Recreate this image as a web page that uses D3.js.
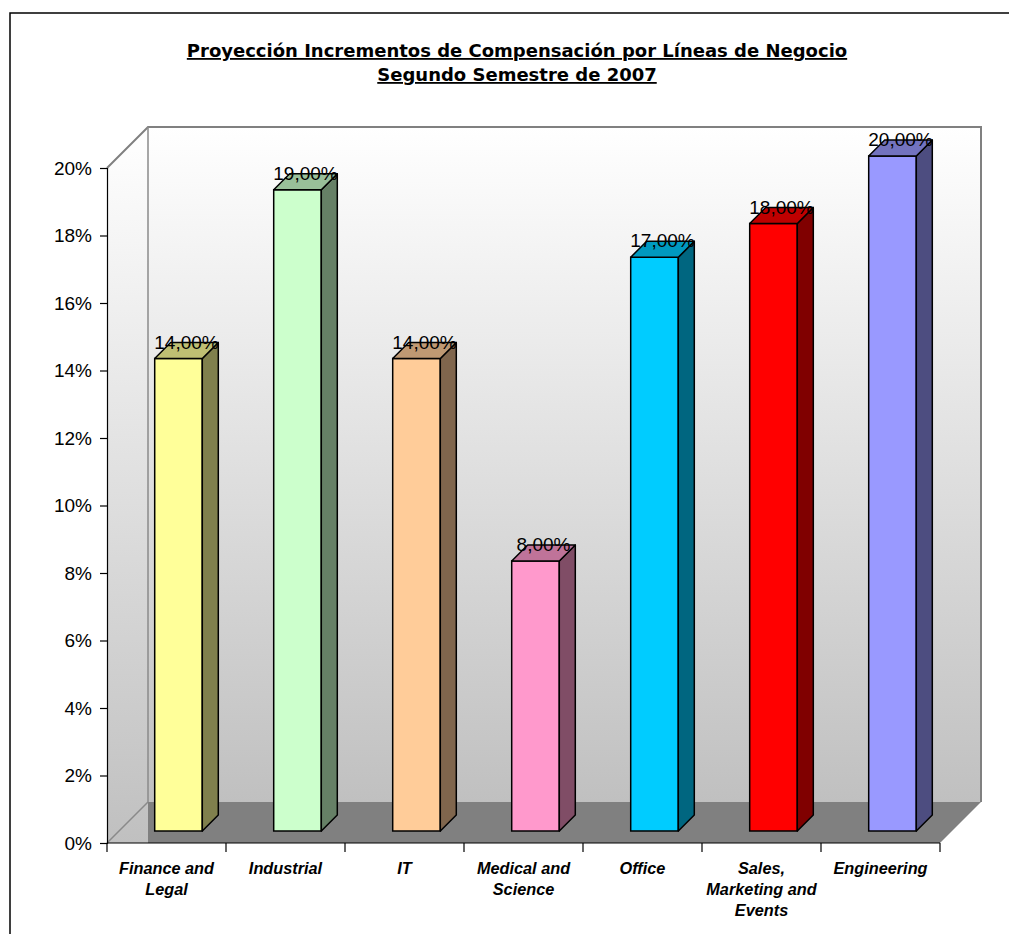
<!DOCTYPE html>
<html>
<head>
<meta charset="utf-8">
<script src="https://cdn.jsdelivr.net/npm/d3@7"></script>
<style>
  body { margin: 0; background: #fff; }
</style>
</head>
<body>
<div id="plot"></div>
<script>
const categories = [["Finance and", "Legal"], ["Industrial"], ["IT"], ["Medical and", "Science"],
                    ["Office"], ["Sales,", "Marketing and", "Events"], ["Engineering"]];
const values = [14, 19, 14, 8, 17, 18, 20];
const colors = ["#FFFF99", "#CCFFCC", "#FFCC99", "#FF99CC", "#00CCFF", "#FF0000", "#9999FF"];
const yTicks = [0, 2, 4, 6, 8, 10, 12, 14, 16, 18, 20];
const titleLines = ["Proyección Incrementos de Compensación por Líneas de Negocio", "Segundo Semestre de 2007"];

const width = 1009, height = 934;
const pLeft = 107, pRight = 940, pBottom = 843, pTop = 168;
const depth = 41;            // 3d offset of back wall
const barFront = 12, barSide = 16;

const svg = d3.select("#plot").append("svg")
  .attr("width", width).attr("height", height);

// outer border (only top and left edge visible)
svg.append("rect").attr("x", 10).attr("y", 13).attr("width", 1100).attr("height", 1000)
  .attr("fill", "#fff").attr("stroke", "#000").attr("stroke-width", 1.5);

const x = d3.scaleBand().domain(d3.range(values.length)).range([pLeft, pRight]);
const y = d3.scaleLinear().domain([0, 20]).range([pBottom, pTop]);

const defs = svg.append("defs");
const grad = defs.append("linearGradient").attr("id", "wall")
  .attr("x1", 0).attr("y1", 0).attr("x2", 0).attr("y2", 1);
grad.append("stop").attr("offset", "0%").attr("stop-color", "#ffffff");
grad.append("stop").attr("offset", "100%").attr("stop-color", "#c0c0c0");

const bx = v => v + depth, by = v => v - depth;

// left wall
svg.append("path")
  .attr("d", `M${pLeft},${y(20)}L${bx(pLeft)},${by(y(20))}L${bx(pLeft)},${pBottom}L${pLeft},${pBottom}Z`)
  .attr("fill", "url(#wall)");
// back wall
svg.append("rect").attr("x", bx(pLeft)).attr("y", by(y(20)))
  .attr("width", pRight - pLeft).attr("height", y(0) - y(20))
  .attr("fill", "url(#wall)");
// floor
svg.append("path")
  .attr("d", `M${bx(pLeft)},${by(pBottom)}L${bx(pRight)},${by(pBottom)}L${pRight},${pBottom}L${bx(pLeft)},${pBottom}Z`)
  .attr("fill", "#808080");
// wall edges
svg.append("path")
  .attr("d", `M${pLeft},${y(20)}L${bx(pLeft)},${by(y(20))}H${bx(pRight)}V${by(pBottom)}`)
  .attr("fill", "none").attr("stroke", "#808080").attr("stroke-width", 2);
svg.append("path")
  .attr("d", `M${bx(pLeft)},${by(y(20))}V${by(pBottom)}M${pLeft},${pBottom}L${bx(pLeft)},${by(pBottom)}`)
  .attr("fill", "none").attr("stroke", "#8a8a8a").attr("stroke-width", 1.5);

// bars
const bw = x.bandwidth() * 0.4;
const shade = (c, k) => { const r = d3.rgb(c); return d3.rgb(r.r * k, r.g * k, r.b * k).formatHex(); };
const bars = svg.append("g").selectAll("g").data(values).join("g");
bars.each(function (v, i) {
  const g = d3.select(this);
  const x0 = x(i) + x.bandwidth() / 2 - bw / 2 + barFront;
  const x1 = x0 + bw;
  const y0 = y(0) - barFront, y1 = y(v) - barFront;
  g.append("rect").attr("x", x0).attr("y", y1).attr("width", bw).attr("height", y0 - y1)
    .attr("fill", colors[i]).attr("stroke", "#000").attr("stroke-width", 1.5);
  g.append("path")
    .attr("d", `M${x1},${y0}L${x1 + barSide},${y0 - barSide}V${y1 - barSide}L${x1},${y1}Z`)
    .attr("fill", shade(colors[i], 0.5)).attr("stroke", "#000").attr("stroke-width", 1.5)
    .attr("stroke-linejoin", "round");
  g.append("path")
    .attr("d", `M${x0},${y1}L${x0 + barSide},${y1 - barSide}H${x1 + barSide}L${x1},${y1}Z`)
    .attr("fill", shade(colors[i], 0.75)).attr("stroke", "#000").attr("stroke-width", 1.5)
    .attr("stroke-linejoin", "round");
  g.append("text")
    .attr("x", (x0 + x1 + barSide) / 2).attr("y", y1 - 10)
    .attr("text-anchor", "middle")
    .attr("font-family", "Liberation Sans, Arial, sans-serif").attr("font-size", 19)
    .text(d3.format(".2f")(v).replace(".", ",") + "%");
});

// y axis
const yAxis = svg.append("g").attr("transform", `translate(${pLeft},0)`)
  .call(d3.axisLeft(y).tickValues(yTicks).tickSize(7).tickPadding(8).tickFormat(d => d + "%"));
yAxis.select(".domain").attr("stroke", "#000").attr("stroke-width", 1.2);
yAxis.selectAll(".tick line").attr("stroke", "#000").attr("stroke-width", 1.2);
yAxis.selectAll(".tick text").attr("font-family", "Liberation Sans, Arial, sans-serif")
  .attr("font-size", 19).attr("fill", "#000");

// x axis
svg.append("line").attr("x1", pLeft).attr("x2", pRight).attr("y1", pBottom).attr("y2", pBottom)
  .attr("stroke", "#000").attr("stroke-width", 1.2);
svg.append("g").selectAll("line").data(d3.range(values.length + 1)).join("line")
  .attr("x1", i => pLeft + x.step() * i).attr("x2", i => pLeft + x.step() * i)
  .attr("y1", pBottom).attr("y2", pBottom + 9)
  .attr("stroke", "#000").attr("stroke-width", 1.2);
svg.append("g").selectAll("text").data(categories).join("text")
  .attr("text-anchor", "middle")
  .attr("font-family", "Liberation Sans, Arial, sans-serif")
  .attr("font-size", 16.3).attr("font-weight", "bold").attr("font-style", "italic")
  .each(function (lines, i) {
    d3.select(this).selectAll("tspan").data(lines).join("tspan")
      .attr("x", x(i) + x.bandwidth() / 2)
      .attr("y", (d, j) => 874 + j * 21)
      .text(d => d);
  });

// title
svg.append("g").selectAll("text").data(titleLines).join("text")
  .attr("x", 517).attr("y", (d, i) => 57 + i * 24)
  .attr("text-anchor", "middle")
  .attr("font-family", "DejaVu Sans, Tahoma, sans-serif")
  .attr("font-size", 18).attr("font-weight", "bold")
  .attr("text-decoration", "underline")
  .text(d => d);
</script>
</body>
</html>
